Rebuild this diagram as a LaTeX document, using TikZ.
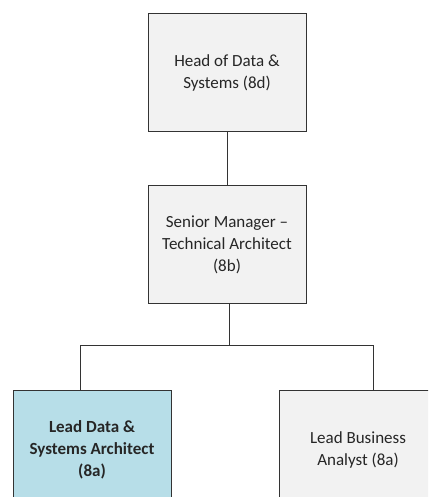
\documentclass[tikz,border=0pt]{standalone}
\usepackage{fontspec}
\setmainfont{Carlito}
\usepackage{xcolor}
\usepackage{tikz}
\usetikzlibrary{positioning}
\definecolor{boxgrey}{HTML}{F2F2F2}
\definecolor{boxblue}{HTML}{B7DEE8}
\definecolor{boxline}{HTML}{333333}
\definecolor{boxtext}{HTML}{262626}

\begin{document}
\begin{tikzpicture}[x=1pt, y=1pt,
    post/.style={draw=boxline, line width=1pt, fill=boxgrey, text=boxtext,
      minimum width=158pt, minimum height=118pt, inner sep=0pt,
      align=center, font=\fontsize{17}{22}\selectfont},
    postme/.style={post, fill=boxblue, font=\fontsize{17}{22}\selectfont\bfseries},
    link/.style={draw=boxline, line width=1pt}]
    \useasboundingbox (0,0) rectangle (428,497);
    \clip (0,0) rectangle (428,497);
    \node[post] (head) at (227,424) {Head of Data \&\\Systems (8d)};
    \node[post] (senior) at (227,252) {Senior Manager --\\Technical Architect\\(8b)};
    \node[postme] (lead) at (92,47) {Lead Data \&\\Systems Architect\\(8a)};
    \node[post] (analyst) at (358,47) {Lead Business\\Analyst (8a)};
    \coordinate (split) at (229,151);
    % reporting lines
    \draw[link] (head) -- (senior);
    \draw[link] (senior.south -| split) -- (split);
    \draw[link] (split) -| ([xshift=-12pt]lead.north);
    \draw[link] (split) -| ([xshift=15pt]analyst.north);
  \end{tikzpicture}
\end{document}
